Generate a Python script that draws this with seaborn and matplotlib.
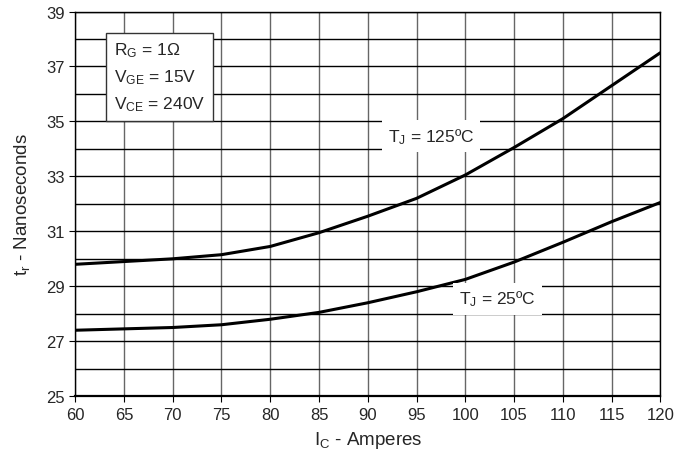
import numpy as np
import pandas as pd
import seaborn as sns
import matplotlib.pyplot as plt

# 데이터
ic_amps = [60, 65, 70, 75, 80, 85, 90, 95, 100, 105, 110, 115, 120]
tr_125c = [29.8, 29.9, 30.0, 30.15, 30.45, 30.95, 31.55, 32.2, 33.05, 34.05, 35.1, 36.3, 37.5]
tr_25c = [27.4, 27.45, 27.5, 27.6, 27.8, 28.05, 28.4, 28.8, 29.25, 29.88, 30.6, 31.35, 32.05]

df = pd.DataFrame({'ic': ic_amps * 2,
                   'tr': tr_125c + tr_25c,
                   'tj': ['125'] * len(ic_amps) + ['25'] * len(ic_amps)})

sns.set_style('white')
plt.rcParams['font.family'] = ['Liberation Sans', 'DejaVu Sans']
plt.rcParams['mathtext.fontset'] = 'custom'
plt.rcParams['mathtext.rm'] = 'Liberation Sans'
plt.rcParams['mathtext.it'] = 'Liberation Sans'

fig = plt.figure(figsize=(6.9, 4.64), dpi=100)
ax = fig.add_axes([0.109, 0.144, 0.848, 0.829])

sns.lineplot(data=df, x='ic', y='tr', hue='tj', palette=['black', 'black'],
             linewidth=2.2, legend=False, ax=ax, zorder=3)

ax.set_xlim(60, 120)
ax.set_ylim(25, 39)
ax.set_xticks(np.arange(60, 121, 5))
ax.set_yticks(np.arange(25, 40, 2))
ax.set_yticks(np.arange(25, 40, 1), minor=True)

# 격자
ax.grid(axis='x', which='major', color='#666666', linewidth=1.0)
ax.grid(axis='y', which='both', color='black', linewidth=1.0)
ax.set_axisbelow(True)
for s in ax.spines.values():
    s.set_color('black')
    s.set_linewidth(1.0)
ax.spines['bottom'].set_linewidth(1.6)

ax.tick_params(axis='both', which='major', labelsize=12, length=4, color='black', direction='out',
               bottom=True, left=True)
ax.tick_params(axis='y', which='minor', length=0)

ax.set_xlabel('$\\mathregular{I_C}$ - Amperes', fontsize=13.5, labelpad=5)
ax.set_ylabel('$\\mathregular{t_{r}}$ - Nanoseconds', fontsize=13.5, labelpad=10)

# 조건 박스
ax.text(0.066, 0.925, '$\\mathregular{R_G}$ = 1Ω\n$\\mathregular{V_{GE}}$ = 15V\n$\\mathregular{V_{CE}}$ = 240V',
        transform=ax.transAxes, ha='left', va='top', fontsize=12.5, linespacing=1.6,
        bbox=dict(boxstyle='square,pad=0.45', facecolor='white', edgecolor='#333333', linewidth=1.0),
        zorder=5)

# 곡선 라벨
ax.text(96.5, 34.47, '$\\mathregular{T_J}$ = 125ºC', ha='center', va='center', fontsize=12.5,
        bbox=dict(boxstyle='square,pad=0.35', facecolor='white', edgecolor='none'), zorder=4)
ax.text(103.3, 28.55, '$\\mathregular{T_J}$ = 25ºC', ha='center', va='center', fontsize=12.5,
        bbox=dict(boxstyle='square,pad=0.35', facecolor='white', edgecolor='none'), zorder=4)

fig.savefig('out.png', dpi=100)
